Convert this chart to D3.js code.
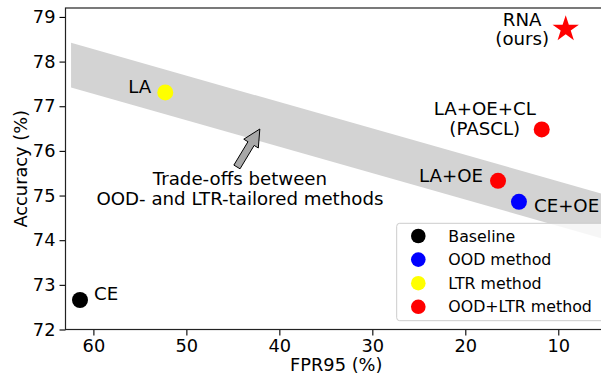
<!DOCTYPE html>
<html>
<head>
<meta charset="utf-8">
<script src="https://cdn.jsdelivr.net/npm/d3@7"></script>
<style>
  body { margin: 0; background: white; }
  svg { display: block; font-family: "DejaVu Sans", sans-serif; }
</style>
</head>
<body>
<div id="chart"></div>
<script>
// data
const methods = ["CE", "LA", "CE+OE", "LA+OE", "LA+OE+CL\n(PASCL)", "RNA\n(ours)"];
const groups = ["Baseline", "LTR method", "OOD method", "OOD+LTR method", "OOD+LTR method", "OOD+LTR method"];
const fpr95 = [61.44, 52.27, 14.23, 16.48, 11.78, 9.2];
const accuracy = [72.66, 77.31, 74.86, 75.33, 76.48, 78.73];

const legendGroups = ["Baseline", "OOD method", "LTR method", "OOD+LTR method"];
const legendColors = ["black", "blue", "yellow", "red"];

// shaded trade-off band
const bandFpr = [62.4, 5.3];
const bandUpper = [78.42, 75.04];
const bandLower = [77.42, 74.04];

// arrow (tail -> tip), in data units
const arrowFpr = [44.56, 42.1];
const arrowAcc = [75.64, 76.49];
const arrowText = ["Trade-offs between", "OOD- and LTR-tailored methods"];

const xTicks = [60, 50, 40, 30, 20, 10];
const yTicks = [72, 73, 74, 75, 76, 77, 78, 79];

const W = 601, H = 377;
const plot = {left: 65.5, right: 607, top: 8, bottom: 329.5};
const FS = "18.2px", TICK_FS = "17.8px", LEGEND_FS = "15.8px";

const colorOf = d3.scaleOrdinal().domain(legendGroups).range(legendColors);

// label placement relative to its marker
const labelStyle = {
  "CE": {anchor: "start", dx: 14, dy: 0},
  "LA": {anchor: "end", dx: -14, dy: 1},
  "CE+OE": {anchor: "start", dx: 15, dy: 10},
  "LA+OE": {anchor: "end", dx: -15, dy: 1},
  "LA+OE+CL\n(PASCL)": {anchor: "middle", dx: -57, dy: -14},
  "RNA\n(ours)": {anchor: "middle", dx: -43.5, dy: -3}
};

const svg = d3.select("#chart")
  .append("svg")
    .attr("width", W)
    .attr("height", H);

const x = d3.scaleLinear()
  .domain([63, 4.76])
  .range([plot.left, plot.right]);

const y = d3.scaleLinear()
  .domain([72, 79.2])
  .range([plot.bottom, plot.top]);

svg.append("defs").append("clipPath")
    .attr("id", "clip")
  .append("rect")
    .attr("x", plot.left)
    .attr("y", plot.top)
    .attr("width", plot.right - plot.left)
    .attr("height", plot.bottom - plot.top);

const inner = svg.append("g").attr("clip-path", "url(#clip)");

// band
const area = d3.area()
  .x(i => x(bandFpr[i]))
  .y0(i => y(bandLower[i]))
  .y1(i => y(bandUpper[i]));

inner.append("path")
  .datum(d3.range(bandFpr.length))
  .attr("fill", "#d3d3d3")
  .attr("d", area);

// arrow
const tail = [x(arrowFpr[0]), y(arrowAcc[0])];
const tip = [x(arrowFpr[1]), y(arrowAcc[1])];
const dxA = tip[0] - tail[0], dyA = tip[1] - tail[1];
const len = Math.hypot(dxA, dyA);
const ux = dxA / len, uy = dyA / len;
const px = -uy, py = ux;
const headLen = 17, headW = 8.5, shaftW = 3.6;
const bx = tip[0] - ux * headLen, by = tip[1] - uy * headLen;
const arrowPts = [
  [tail[0] + px * shaftW, tail[1] + py * shaftW],
  [bx + px * shaftW, by + py * shaftW],
  [bx + px * headW, by + py * headW],
  tip,
  [bx - px * headW, by - py * headW],
  [bx - px * shaftW, by - py * shaftW],
  [tail[0] - px * shaftW, tail[1] - py * shaftW]
];

svg.append("path")
  .attr("d", d3.line()(arrowPts) + "Z")
  .attr("fill", "#a8a8a8")
  .attr("stroke", "black")
  .attr("stroke-width", 1)
  .attr("stroke-linejoin", "miter");

svg.append("text")
  .attr("text-anchor", "middle")
  .style("font-size", FS)
  .selectAll("tspan")
  .data(arrowText)
  .join("tspan")
    .attr("x", tail[0] + 3)
    .attr("y", (d, i) => tail[1] + 18.3 + i * 19.6)
    .text(d => d);

// axes
const xAxis = d3.axisBottom(x).tickValues(xTicks).tickSize(6).tickSizeOuter(0).tickPadding(4);
const yAxis = d3.axisLeft(y).tickValues(yTicks).tickSize(6).tickSizeOuter(0).tickPadding(4);

const gx = svg.append("g")
  .attr("transform", `translate(0, ${plot.bottom})`)
  .call(xAxis);
const gy = svg.append("g")
  .attr("transform", `translate(${plot.left}, 0)`)
  .call(yAxis);

[gx, gy].forEach(g => {
  g.select(".domain").remove();
  g.selectAll("text")
    .attr("fill", "black")
    .style("font-family", "DejaVu Sans")
    .style("font-size", TICK_FS);
  g.selectAll("line").attr("stroke", "black").attr("stroke-width", 1.1);
});

// frame
svg.append("rect")
  .attr("x", plot.left)
  .attr("y", plot.top)
  .attr("width", plot.right - plot.left)
  .attr("height", plot.bottom - plot.top)
  .attr("fill", "none")
  .attr("stroke", "#222")
  .attr("stroke-width", 1.2);

svg.append("text")
  .text("FPR95 (%)")
  .attr("x", (plot.left + plot.right) / 2)
  .attr("y", 371)
  .attr("text-anchor", "middle")
  .style("font-size", TICK_FS);

svg.append("text")
  .text("Accuracy (%)")
  .attr("text-anchor", "middle")
  .attr("transform", `translate(27, ${(plot.top + plot.bottom) / 2}) rotate(-90)`)
  .style("font-size", TICK_FS);

// points
const idx = d3.range(methods.length);
svg.append("g")
  .selectAll("path")
  .data(idx)
  .join("path")
    .attr("transform", i => `translate(${x(fpr95[i])}, ${y(accuracy[i])})`)
    .attr("d", i => methods[i].startsWith("RNA")
      ? d3.symbol(d3.symbolStar, 215)()
      : d3.symbol(d3.symbolCircle, Math.PI * 8 * 8)())
    .attr("fill", i => colorOf(groups[i]));

// point labels
svg.append("g")
  .selectAll("text")
  .data(idx)
  .join("text")
    .attr("text-anchor", i => labelStyle[methods[i]].anchor)
    .style("font-size", FS)
    .each(function (i) {
      const s = labelStyle[methods[i]];
      const cx = x(fpr95[i]) + s.dx, cy = y(accuracy[i]) + s.dy;
      d3.select(this).selectAll("tspan")
        .data(methods[i].split("\n"))
        .join("tspan")
          .attr("x", cx)
          .attr("y", (d, k) => cy + k * 19.5)
          .text(d => d);
    });

// legend
const legend = svg.append("g");
legend.append("rect")
  .attr("x", 396.7)
  .attr("y", 223.3)
  .attr("width", 216)
  .attr("height", 97.4)
  .attr("rx", 3)
  .attr("fill", "white")
  .attr("fill-opacity", 0.8)
  .attr("stroke", "#cccccc")
  .attr("stroke-width", 1);

const rows = legend.selectAll("g")
  .data(legendGroups)
  .join("g")
    .attr("transform", (d, i) => `translate(418.3, ${236 + i * 23.6})`);

rows.append("circle")
  .attr("r", 7.3)
  .attr("fill", d => colorOf(d));

rows.append("text")
  .text(d => d)
  .attr("x", 30)
  .attr("y", 5.6)
  .style("font-size", LEGEND_FS);
</script>
</body>
</html>
